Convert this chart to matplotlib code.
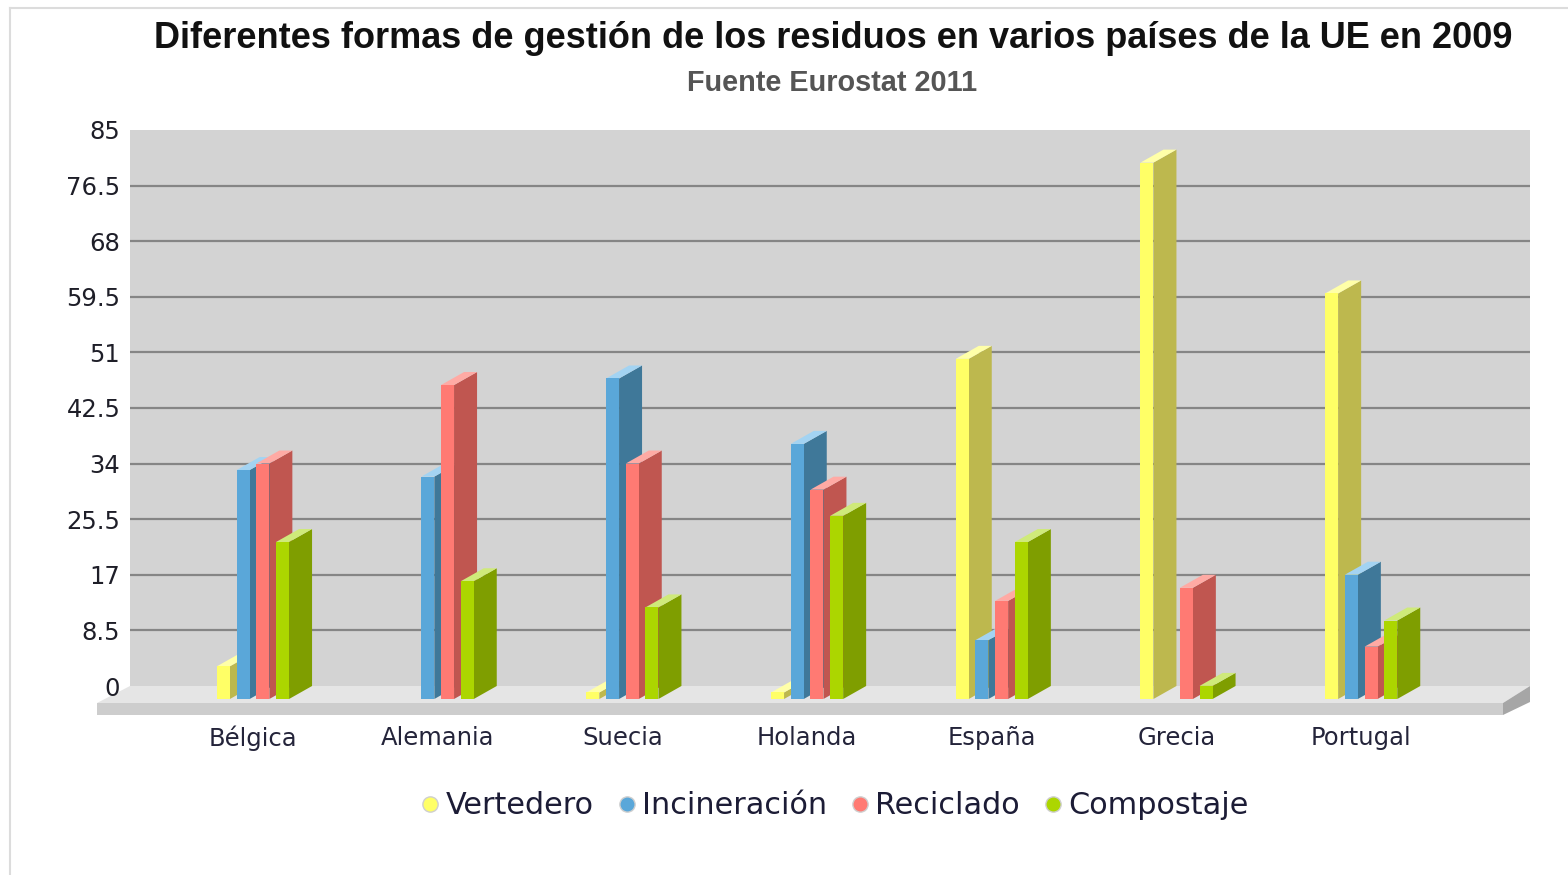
import matplotlib
matplotlib.use("Agg")
import matplotlib.pyplot as plt
from matplotlib.patches import Polygon, Rectangle
from matplotlib.lines import Line2D

# ---------------- data ----------------
countries = ['Bélgica', 'Alemania', 'Suecia', 'Holanda', 'España', 'Grecia', 'Portugal']
series_names = ['Vertedero', 'Incineración', 'Reciclado', 'Compostaje']
vertedero = [5, 0, 1, 1, 52, 82, 62]
incineracion = [35, 34, 49, 39, 9, 0, 19]
reciclado = [36, 48, 36, 32, 15, 17, 8]
compostaje = [24, 18, 14, 28, 24, 2, 12]
y_ticks = [0, 8.5, 17, 25.5, 34, 42.5, 51, 59.5, 68, 76.5, 85]

title = 'Diferentes formas de gestión de los residuos en varios países de la UE en 2009'
subtitle = 'Fuente Eurostat 2011'

# ---------------- style ----------------
front_c = ['#ffff66', '#5aa7d9', '#ff7a73', '#acd600']
side_c = ['#bdb84e', '#3f7899', '#c05650', '#7f9e00']
top_c = ['#ffffa8', '#a3d3f2', '#ffaaa4', '#cfea7a']

W, H = 1568, 875
fig = plt.figure(figsize=(W / 100, H / 100), dpi=100)
fig.patch.set_facecolor('white')

# pixel geometry of the plot area
L, R, T, B = 130, 1530, 130, 716
px_x = 184.7          # pixels per category
px_y = 556 / 85       # pixels per unit
x0_px = 253           # pixel x of category 0
y0_px = 699           # pixel y of value 0 (front plane)

ax = fig.add_axes([L / W, (H - B) / H, (R - L) / W, (B - T) / H])
xmin, xmax = (L - x0_px) / px_x, (R - x0_px) / px_x
ymin, ymax = (y0_px - B) / px_y, (y0_px - T) / px_y
ax.set_xlim(xmin, xmax)
ax.set_ylim(ymin, ymax)
ax.set_facecolor('none')
for s in ax.spines.values():
    s.set_visible(False)

dx = 23 / px_x
dy = 13 / px_y
step = 19.7 / px_x
bw = 13 / px_x

# back wall
ax.add_patch(Rectangle((xmin, dy), xmax - xmin, ymax - dy, facecolor='#d3d3d3',
                       edgecolor='none', zorder=0))
# gridlines on the wall
for v in y_ticks[1:-1]:
    ax.plot([xmin, xmax], [v + dy, v + dy], color='#858585', lw=1.6, zorder=0.5,
            solid_capstyle='butt')

# floor
fl = (97 - x0_px) / px_x
fr = (1503 - x0_px) / px_x
ftop = -4 / px_y
fbot = -16 / px_y
ax.add_patch(Polygon([(fl, ftop), (fr, ftop), (xmax, dy), (xmin, dy)], closed=True,
                     facecolor='#e5e5e5', edgecolor='none', zorder=1, clip_on=False))
ax.add_patch(Polygon([(fl, fbot), (fr, fbot), (fr, ftop), (fl, ftop)], closed=True,
                     facecolor='#cdcdcd', edgecolor='none', zorder=1, clip_on=False))
ax.add_patch(Polygon([(fr, fbot), (xmax, fbot + dy), (xmax, dy), (fr, ftop)], closed=True,
                     facecolor='#a6a6a6', edgecolor='none', zorder=1, clip_on=False))

# bars
all_series = [vertedero, incineracion, reciclado, compostaje]
for i in range(len(countries)):
    for k, vals in enumerate(all_series):
        v = vals[i]
        if v <= 0:
            continue
        xl = i + (k - 1.5) * step - bw / 2
        xr = xl + bw
        z = 2 + k
        ax.add_patch(Polygon([(xr, 0), (xr + dx, dy), (xr + dx, v + dy), (xr, v)],
                             closed=True, facecolor=side_c[k], edgecolor='none', zorder=z))
        ax.add_patch(Polygon([(xl, v), (xr, v), (xr + dx, v + dy), (xl + dx, v + dy)],
                             closed=True, facecolor=top_c[k], edgecolor='none', zorder=z))
        ax.add_patch(Rectangle((xl, 0), bw, v, facecolor=front_c[k], edgecolor='none',
                               zorder=z + 0.1))

# ticks
ax.set_yticks([v + dy for v in y_ticks])
ax.set_yticklabels([('%g' % v) for v in y_ticks])
ax.set_xticks(range(len(countries)))
ax.set_xticklabels(countries)
ax.tick_params(axis='y', length=0, pad=7, labelsize=17.5, labelcolor='#1e1e28')
ax.tick_params(axis='x', length=0, pad=7, labelsize=17.5, labelcolor='#24243a')
for lab in ax.get_xticklabels() + ax.get_yticklabels():
    lab.set_fontfamily('DejaVu Sans')

# title
fig.text(833 / W, 1 - 38 / H, title, ha='center', va='center', fontsize=26,
         fontweight='bold', family='Liberation Sans', color='#111111')
fig.text(832 / W, 1 - 83 / H, subtitle, ha='center', va='center', fontsize=20.8,
         fontweight='bold', family='Liberation Sans', color='#555555')

# legend
handles = [Line2D([], [], linestyle='none', marker='o', markersize=11,
                  markerfacecolor=front_c[k], markeredgecolor='#cfcfcf', markeredgewidth=1)
           for k in range(4)]
leg = fig.legend(handles, series_names, loc='center', bbox_to_anchor=(832 / W, 1 - 806 / H),
                 ncol=4, frameon=False, fontsize=21.8, handletextpad=0.0, columnspacing=0.6,
                 handlelength=1.0)
for t in leg.get_texts():
    t.set_color('#1c1c36')

# outer frame
fig.add_artist(Line2D([10 / W, 10 / W], [0, 1 - 8 / H], transform=fig.transFigure,
                      color='#dcdcdc', lw=1.5))
fig.add_artist(Line2D([10 / W, 1], [1 - 8 / H, 1 - 8 / H], transform=fig.transFigure,
                      color='#dcdcdc', lw=1.5))

fig.savefig('out.png', dpi=100, facecolor='white')
